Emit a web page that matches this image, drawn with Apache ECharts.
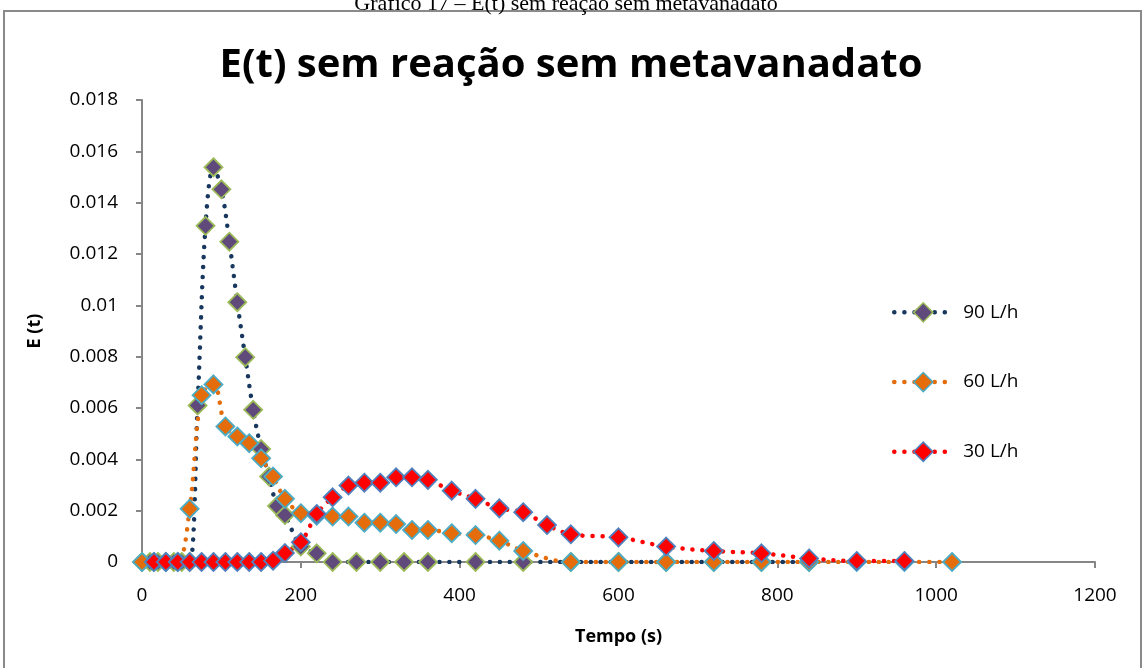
<!DOCTYPE html>
<html>
<head>
<meta charset="utf-8">
<script src="https://cdn.jsdelivr.net/npm/echarts@6/dist/echarts.min.js"></script>
<style>
  html, body { margin: 0; padding: 0; background: #fff; }
  #chart { width: 1147px; height: 668px; }
</style>
</head>
<body>
<div id="chart"></div>
<script>
// tempos (s) e E(t) de cada vazao
let t90 = [0, 10, 20, 30, 40, 50, 60, 70, 80, 90, 100, 110, 120, 130, 140, 150, 160, 170, 180,
    200, 220, 240, 270, 300, 330, 360, 420, 480, 540, 600, 660, 720, 780, 840];
let e90 = [0, 0, 0, 0, 0, 0, 0, 0.0061, 0.0131, 0.01538, 0.01452, 0.01248, 0.01012, 0.00798, 0.00593, 0.0044, 0.00333, 0.00218, 0.00183,
    0.0006, 0.00034, 0, 0, 0, 0, 0, 0, 0, 0, 0, 0, 0, 0, 0];

let t60 = [0, 15, 30, 45, 60, 75, 90, 105, 120, 135, 150, 165, 180, 200, 220, 240, 260, 280, 300, 320, 340, 360,
    390, 420, 450, 480, 540, 600, 660, 720, 780, 840, 900, 960, 1020];
let e60 = [0, 0, 0, 0, 0.00207, 0.0065, 0.00692, 0.00528, 0.00489, 0.00463, 0.00404, 0.00333, 0.00246, 0.0019, 0.0018, 0.00177, 0.00177, 0.00153, 0.00153, 0.00148, 0.00125, 0.00125,
    0.00112, 0.00105, 0.00083, 0.00043, 0, 0, 0, 0, 0, 0, 0, 0, 0];

let t30 = [15, 30, 45, 60, 75, 90, 105, 120, 135, 150, 165, 180, 200, 220, 240, 260, 280, 300, 320, 340, 360,
    390, 420, 450, 480, 510, 540, 600, 660, 720, 780, 840, 900, 960];
let e30 = [0, 0, 0, 0, 0, 0, 0, 0, 0, 0, 0.00005, 0.00035, 0.00077, 0.00187, 0.00252, 0.00298, 0.00309, 0.00309, 0.0033, 0.0033, 0.0032,
    0.00278, 0.00246, 0.00209, 0.00194, 0.00144, 0.00108, 0.00096, 0.0006, 0.00043, 0.00034, 0.00014, 0.00004, 0.00004];

let names = ['90 L/h', '60 L/h', '30 L/h'];
let xTicks = [0, 200, 400, 600, 800, 1000, 1200];
let yTicks = [0, 0.002, 0.004, 0.006, 0.008, 0.01, 0.012, 0.014, 0.016, 0.018];

let zip = (xs, ys) => xs.map((x, i) => [x, ys[i]]);

let dots = { width: 4.5, type: [0.1, 10], cap: 'round' };

let mkSeries = (name, data, lineColor, fill, border) => ({
    name,
    type: 'line',
    data,
    smooth: 0.35,
    symbol: 'diamond',
    symbolSize: 18,
    lineStyle: Object.assign({ color: lineColor }, dots),
    itemStyle: { color: fill, borderColor: border, borderWidth: 1.8 },
    emphasis: { disabled: true },
    z: 2
});

let font = '"Open Sans", "Noto Sans", sans-serif';

let option = {
    backgroundColor: '#fff',
    animation: false,
    title: {
        text: 'E(t) sem reação sem metavanadato',
        left: 566,
        top: 41,
        textAlign: 'center',
        textStyle: { fontFamily: font, fontWeight: 'bold', fontSize: 40, color: '#000' }
    },
    graphic: [
        {
            type: 'rect',
            shape: { x: 4, y: 11, width: 1137, height: 670 },
            style: { fill: 'none', stroke: '#8a8a8a', lineWidth: 2 },
            silent: true
        },
        {
            type: 'text',
            x: 566,
            y: 15,
            style: {
                text: 'Gráfico 17 – E(t) sem reação sem metavanadato',
                font: '22px "Liberation Serif", serif',
                fill: '#000',
                align: 'center',
                verticalAlign: 'bottom'
            },
            silent: true
        }
    ],
    legend: {
        data: names,
        orient: 'vertical',
        left: 887,
        top: 297,
        itemWidth: 58,
        itemHeight: 24,
        itemGap: 49,
        lineStyle: dots,
        itemStyle: { borderWidth: 1.5 },
        textStyle: { fontFamily: font, fontSize: 19, color: '#000', padding: [0, 0, 0, 6] }
    },
    grid: { left: 142, right: 52, top: 100, bottom: 106 },
    xAxis: {
        type: 'value',
        min: xTicks[0],
        max: xTicks[xTicks.length - 1],
        interval: xTicks[1] - xTicks[0],
        name: 'Tempo (s)',
        nameLocation: 'middle',
        nameGap: 66,
        nameTextStyle: { fontFamily: font, fontWeight: 'bold', fontSize: 18, color: '#000' },
        axisLine: { lineStyle: { color: '#868686', width: 2 } },
        axisTick: { show: true, length: 6, lineStyle: { color: '#868686', width: 2 } },
        axisLabel: { fontFamily: font, fontSize: 19, color: '#000', margin: 24, formatter: v => String(v) },
        splitLine: { show: false }
    },
    yAxis: {
        type: 'value',
        min: yTicks[0],
        max: yTicks[yTicks.length - 1],
        interval: yTicks[1] - yTicks[0],
        name: 'E (t)',
        nameLocation: 'middle',
        nameGap: 98,
        nameRotate: 90,
        nameTextStyle: { fontFamily: font, fontWeight: 'bold', fontSize: 18, color: '#000' },
        axisLine: { show: true, lineStyle: { color: '#868686', width: 2 } },
        axisTick: { show: true, length: 6, lineStyle: { color: '#868686', width: 2 } },
        axisLabel: { fontFamily: font, fontSize: 19, color: '#000', margin: 24 },
        splitLine: { show: false }
    },
    series: [
        mkSeries(names[0], zip(t90, e90), '#17375E', '#604A7B', '#9BBB59'),
        mkSeries(names[1], zip(t60, e60), '#E46C0A', '#E46C0A', '#4BACC6'),
        mkSeries(names[2], zip(t30, e30), '#FF0000', '#FF0000', '#4F81BD')
    ]
};

let chart = echarts.init(document.getElementById('chart'));
chart.setOption(option);
</script>
</body>
</html>
